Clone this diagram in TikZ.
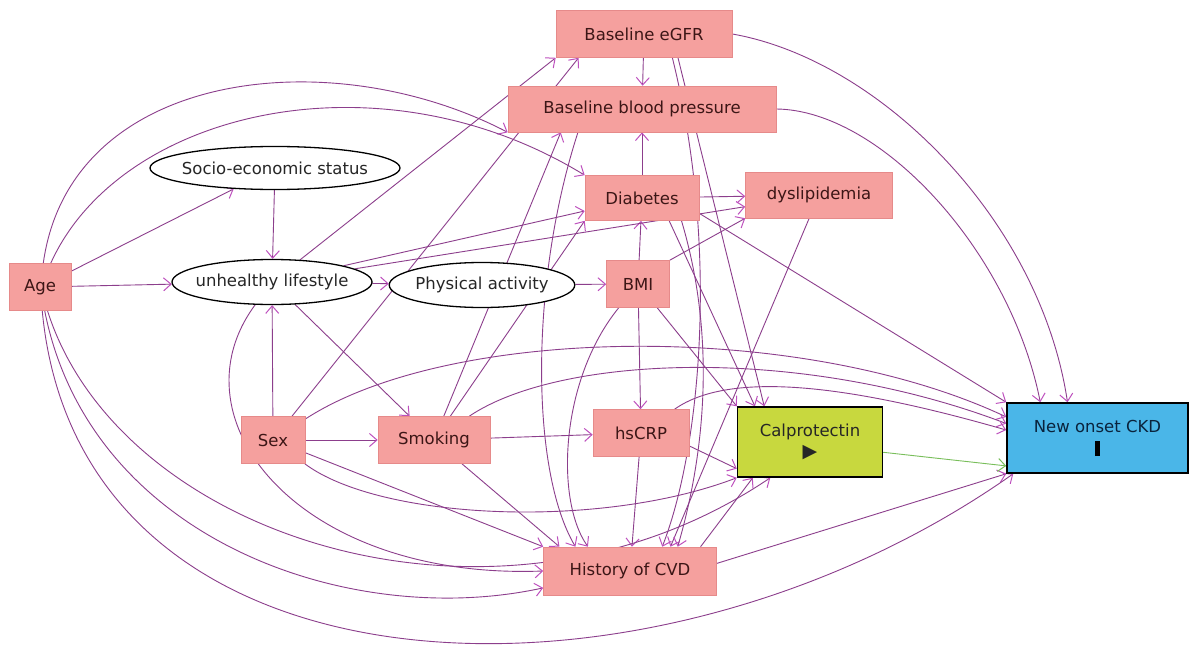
\documentclass[tikz,border=0pt]{standalone}
\usepackage{fontspec}
\setmainfont{DejaVu Sans}
\usetikzlibrary{arrows.meta,shapes.geometric}
\pgfdeclarelayer{bg}
\pgfsetlayers{bg,main}
\definecolor{pinkf}{RGB}{245,160,158}
\definecolor{pinkd}{RGB}{230,138,138}
\definecolor{calf}{RGB}{200,216,62}
\definecolor{ckdf}{RGB}{74,182,232}
\definecolor{edgec}{RGB}{140,62,140}
\definecolor{tipc}{RGB}{190,80,190}
\definecolor{grn}{RGB}{120,190,90}
\definecolor{txt}{RGB}{60,22,22}
\begin{document}
\begin{tikzpicture}[x=1pt,y=-1pt,
  font=\fontsize{16.5}{19}\selectfont,
  pbox/.style={draw=pinkd, fill=pinkf, line width=0.6pt, minimum height=47pt, inner sep=0pt, text=txt},
  ell/.style={ellipse, draw=black, fill=white, line width=1.3pt, inner xsep=-6pt, inner ysep=0pt, text=black!85},
  edg/.style={draw=edgec, line width=0.9pt, -{Straight Barb[length=7.5pt,width=13pt,color=tipc,line width=1pt]}},
  gedg/.style={draw=grn, line width=0.9pt, -{Straight Barb[length=7.5pt,width=13pt,color=grn,line width=1pt]}}
]
\useasboundingbox (0,0) rectangle (1190,658);

% nodes
\node[pbox, minimum width=176pt] (egfr) at (644,34) {Baseline eGFR};
\node[pbox, minimum width=268pt, minimum height=46pt] (bbp) at (642,109) {Baseline blood pressure};
\node[pbox, minimum width=114pt, minimum height=45pt] (diab) at (642,198) {Diabetes};
\node[pbox, minimum width=147pt, minimum height=46pt] (dysl) at (819,195) {dyslipidemia};
\node[ell, minimum width=250pt, minimum height=43pt] (ses) at (275,168) {Socio-economic status};
\node[pbox, minimum width=62pt] (age) at (40,287) {Age};
\node[ell, minimum width=200pt, minimum height=45pt] (life) at (272,282) {unhealthy lifestyle};
\node[ell, inner xsep=-1pt, minimum width=185pt, minimum height=45pt] (pa) at (482,285) {Physical activity};
\node[pbox, minimum width=63pt] (bmi) at (638,284) {BMI};
\node[pbox, minimum width=64pt] (sex) at (273,440) {Sex};
\node[pbox, minimum width=112pt] (smk) at (434,440) {Smoking};
\node[pbox, minimum width=96pt] (crp) at (641,433) {hsCRP};
\node[draw=black, fill=calf, line width=1.5pt, minimum width=145pt, minimum height=70pt, align=center, inner sep=0pt, text=black!85] (cal) at (810,442) {Calprotectin\\[2pt]{\fontsize{19}{19}\selectfont ▶}};
\node[draw=black, fill=ckdf, line width=1.5pt, minimum width=181pt, minimum height=70pt, align=center, inner sep=0pt, text={rgb,255:red,10;green,35;blue,60}] (ckd) at (1097.5,438) {New onset CKD\\[5pt]\textcolor{black}{\rule{5pt}{15pt}}};
\node[pbox, minimum width=173pt, minimum height=48pt] (cvd) at (630,571) {History of CVD};

\begin{pgfonlayer}{bg}
\fill[white] (0,0) rectangle (1190,658);
% straight edges
\draw[edg] (age) -- (life);
\draw[edg] (age) -- (ses);
\draw[edg] (ses) -- (life);
\draw[edg] (sex) -- (life);
\draw[edg] (sex) -- (smk);
\draw[edg] (life) -- (pa);
\draw[edg] (pa) -- (bmi);
\draw[edg] (smk) -- (crp);
\draw[edg] (bmi) -- (diab);
\draw[edg] (bmi) -- (crp);
\draw[edg] (diab) -- (bbp);
\draw[edg] (egfr) -- (bbp);
\draw[edg] (diab) -- (dysl);
\draw[edg] (bmi.north east) -- (dysl.south west);
\draw[edg] (life) -- (diab);
\draw[edg] (life) -- (dysl);
\draw[edg] (life) -- (smk);
\draw[edg] (life) -- (egfr.south west);
\draw[edg] (sex) -- (egfr.200);
\draw[edg] (smk) -- (diab.south west);
\draw[edg] (smk) -- (bbp.196);
\draw[edg] (smk) -- (cvd.161);
\draw[edg] (sex) -- (cvd.north west);
\draw[edg] (crp) -- (cvd);
\draw[edg] (crp.-15) -- (cal.200);
\draw[edg] (bmi) -- (cal.north west);
\draw[edg] (diab.-40) -- (cal.147);
\draw[edg] (egfr.-35) -- (cal.142);
\draw[edg] (dysl) -- (cvd.31);
\draw[edg] (cvd.19) -- (cal.212);
\draw[edg] (cvd.5) -- (ckd.south west);
\draw[gedg] (cal.-8) -- (ckd.197);
\draw[edg] (diab.-15) -- (ckd.north west);
% curved edges
\draw[edg] (egfr.east) .. controls (880,60) and (1040,220) .. (ckd.130);
\draw[edg] (bbp.east) .. controls (880,110) and (1010,250) .. (ckd.148);
\draw[edg] (sex) .. controls (450,325) and (800,320) .. (ckd.167);
\draw[edg] (smk) .. controls (560,355) and (800,345) .. (ckd.171);
\draw[edg] (crp) .. controls (730,370) and (850,385) .. (ckd.175);
\draw[edg] (sex) .. controls (380,520) and (600,530) .. (cal.south west);
\draw[edg] (age) .. controls (120,540) and (500,660) .. (cal.222);
\draw[edg] (age) .. controls (90,540) and (350,630) .. (cvd.191);
\draw[edg] (life) .. controls (170,420) and (300,580) .. (cvd.west);
\draw[edg] (age) .. controls (80,712) and (650,730) .. (ckd.203);
\draw[edg] (age) .. controls (70,70) and (330,40) .. (bbp.south west);
\draw[edg] (age) .. controls (120,110) and (380,50) .. (diab.north west);
\draw[edg] (bbp.200) .. controls (530,280) and (530,470) .. (cvd.156);
\draw[edg] (bmi) .. controls (560,380) and (555,500) .. (cvd.150);
\draw[edg] (egfr.-40) .. controls (720,250) and (700,450) .. (cvd.37);
\draw[edg] (diab.-30) .. controls (720,350) and (700,470) .. (cvd.27);
\end{pgfonlayer}
\end{tikzpicture}
\end{document}
